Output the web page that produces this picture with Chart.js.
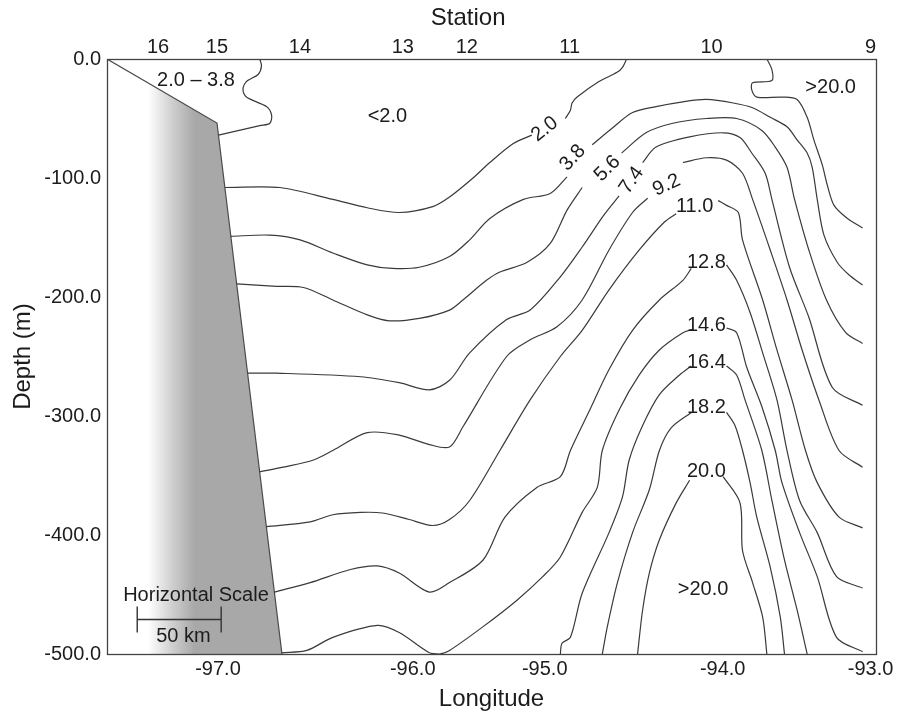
<!DOCTYPE html>
<html>
<head>
<meta charset="utf-8">
<script src="https://cdn.jsdelivr.net/npm/chart.js@4.4.1/dist/chart.umd.min.js"></script>
<style>
html,body{margin:0;padding:0;background:#fff;}
#wrap{width:899px;height:717px;}
</style>
</head>
<body>
<div id="wrap"><canvas id="c" width="899" height="717"></canvas></div>
<script>
// ---- axes (distance along section, km; depth, m) ----
const xMin = 0, xMax = 458;
const lonTickPos = [66.1, 182.1, 260.7, 366.7, 454.8];
const lonTickLabels = ['-97.0', '-96.0', '-95.0', '-94.0', '-93.0'];
const stationPos = [30.4, 65.5, 114.9, 176.2, 214.3, 275.6, 360.1, 454.8];
const stationLabels = ['16', '15', '14', '13', '12', '11', '10', '9'];
const depthMin = -500, depthMax = 0, depthStep = 100;

// ---- continental slope (shelf) ----
const shelfX = [0, 65.5, 104.2];
const shelfY = [0, -53.8, -500];
const shadeStart = 24.4, shadeEnd = 52.4;

// ---- horizontal scale bar (50 km) ----
const scaleBarX = [18, 18, 18, 18, 68, 68, 68, 68];
const scaleBarY = [-460, -482, null, -471, -471, null, -460, -482];

// ---- contour lines [km, depth]; null = break at label ----
const c20a = [[91,0],[92,-6],[90,-13],[83,-19],[81,-26],[83,-32],[95,-40],[98,-47],[97,-54],[91,-56],[66.4,-64]];
const c20b = [[70.2,-108],[103,-108],[134.5,-118],[155,-125],[174,-129],[194,-124],[204,-116],[218,-100],[228,-87],[242,-71],[253,-64],[261,null],[273,-50],[276,-43],[277,-37],[280,-32],[293,-19],[304,-11],[307,-7],[309.5,0]];
const c20c = [[393,0],[396,-9],[396,-18],[384.5,-20],[384,-26],[387,-32],[402,-32],[411,-34],[417,-49],[421,-68],[426,-89],[429,-106],[433,-123],[441,-134],[450,-142]];
const c38 = [[73.7,-149],[97,-148],[115,-152],[134.5,-163],[155,-173],[170,-176],[186,-175],[204,-166],[216,-152],[228,-134],[248,-118],[264,-113],[274,-99],[277,null],[289,-72],[301,-58],[313,-45],[327,-40],[343,-36],[357,-34],[373,-37],[384.5,-41],[395,-49],[405,-57],[411,-68],[417,-79],[420,-91],[423,-118],[427,-148],[435,-171],[442,-181.5],[450,-190]];
const c56 = [[77.2,-189],[101,-191],[117,-192],[134.5,-202.5],[155,-215],[168,-220],[186,-218],[204,-211],[212,-202.5],[226,-186],[234,-179],[250,-171],[264,-155],[274,-127],[283,-108],[297,null],[306.5,-79],[321,-62],[337,-54],[357,-50],[375,-50],[390,-60],[398,-74],[405,-91],[409.5,-118],[418,-160.5],[428.5,-202.5],[440,-230],[450,-239]];
const c74 = [[83.7,-264],[101,-264],[151,-267],[174,-272],[192,-278],[204,-270],[216,-247],[238,-219],[252,-211],[270,-183],[283,-158],[296,-131],[305,-115],[312.5,null],[319,-87],[327,-74],[347,-65.5],[367,-62],[377,-66],[384,-79],[392,-96],[396,-118],[406.5,-175],[418,-217],[432,-276],[450,-291]];
const c92 = [[90.9,-347],[105,-343],[123,-337],[134.5,-329],[155,-314],[174,-316],[192,-324],[204,-326],[212,-309],[238,-250],[252,-236],[268,-225],[283,-202.5],[299,-160.5],[313,-129],[322,-117],[333,null],[343,-87],[357,-83],[369,-85],[378.5,-96],[384.5,-118],[395,-160.5],[405,-202.5],[414,-244.5],[424,-286.5],[436,-329],[450,-343]];
const c110 = [[94.9,-393],[121,-389],[134.5,-383],[151,-381],[164,-381.5],[180,-387],[194,-392],[204,-387],[216,-371],[234,-329],[252,-286.5],[270,-250],[283,-228],[299,-194],[317,-160.5],[332,-137],[339,-130],[350,null],[364,-119],[369,-123],[376,-129],[378.5,-152],[390.5,-202.5],[399,-244.5],[408,-286.5],[416,-329],[423,-356],[436,-385],[450,-394]];
const c128 = [[99.7,-448],[121,-440],[145,-429],[161,-426],[174,-432],[192,-448],[204,-440],[224,-421],[237,-385],[256,-360],[270,-351],[276,-329],[287.5,-295],[299,-261],[313,-228],[329,-202.5],[343,-186],[348,-176],[357,null],[369,-173],[375,-186],[383,-213],[390.5,-247],[399,-286.5],[405,-329],[412.5,-371],[423,-398],[434.5,-435],[450,-444.5]];
const c146 = [[104,-499],[119,-497],[134.5,-486],[161,-476],[174,-482],[192,-499],[198,-500],[204,-497],[224,-477],[244,-455],[259.5,-435],[270,-418.5],[283,-381],[292,-360],[295,-329],[305,-295],[317,-265.5],[329,-244.5],[343,-230],[349,-227],[357,null],[369,-226],[375,-230],[381,-259],[390,-292],[398,-329],[402,-356],[412.5,-398],[423,-435],[434.5,-486],[450,-498]];
const c164 = [[270,-500],[271,-491],[276,-486],[283,-449],[299,-398],[307,-368],[311,-337],[319,-308],[329,-282],[341,-265.5],[348,-258],[357,null],[369,-258],[375,-265.5],[380,-286.5],[390,-329],[396,-371],[403.5,-421],[411,-463],[417,-500]];
const c182 = [[295,-500],[298,-477],[304,-440],[313,-398],[323,-362],[329,-329],[336,-310],[348,-297],[357,null],[369,-297],[374,-308],[378.5,-329],[383,-356],[387,-385],[395,-427],[401,-469],[403.5,-500]];
const c200 = [[316,-500],[319,-463],[323,-432],[329,-404],[339,-373],[347,-354],[357,null],[367,-351],[377,-373],[378.5,-413],[384.5,-440],[390.5,-469],[393,-500]];
const contours = [c20a, c20b, c20c, c38, c56, c74, c92, c110, c128, c146, c164, c182, c200];

// ---- text labels inside the plot ----
const labelTexts = ['2.0','3.8','5.6','7.4','9.2','11.0','12.8','14.6','16.4','18.2','20.0','2.0 \u2013 3.8','<2.0','>20.0','>20.0','Horizontal Scale','50 km'];
const labelX = [260.7, 277.4, 298, 312.5, 333.3, 350, 357, 357, 357, 357, 357, 53, 167, 431, 355, 53, 45.5];
const labelY = [-59, -83, -92, -102, -106, -124, -171, -224, -255, -293, -347, -18, -48, -24, -446, -451, -485];
const labelAngle = [-38, -48, -45, -55, -25, 0, 0, 0, 0, 0, 0, 0, 0, 0, 0, 0, 0];

const FONT = '"Liberation Sans", Arial, Helvetica, sans-serif';
const INK = '#1c1c1c';
const LINE = '#3a3a3a';

Chart.defaults.font.family = FONT;
Chart.defaults.color = INK;

const toPts = arr => arr.map(p => ({x: p[0], y: p[1]}));

const datasets = contours.map(c => ({
  data: toPts(c),
  borderColor: LINE,
  borderWidth: 1.2,
  pointRadius: 0,
  tension: 0.3,
  fill: false,
  spanGaps: false
}));

datasets.push({
  data: scaleBarX.map((x, i) => ({x, y: scaleBarY[i]})),
  borderColor: '#333',
  borderWidth: 1.4,
  pointRadius: 0,
  tension: 0,
  fill: false,
  spanGaps: false
});

datasets.push({
  data: shelfX.map((x, i) => ({x, y: shelfY[i]})),
  borderColor: '#4a4a4a',
  borderWidth: 1.2,
  pointRadius: 0,
  tension: 0,
  fill: 'start',
  backgroundColor: (ctx) => {
    const ch = ctx.chart;
    const xs = ch.scales && ch.scales.x;
    if (!ch.chartArea || !xs) return '#a8a8a8';
    const g = ch.ctx.createLinearGradient(xs.getPixelForValue(shadeStart), 0, xs.getPixelForValue(shadeEnd), 0);
    g.addColorStop(0, '#ffffff');
    g.addColorStop(0.5, '#d0d0d0');
    g.addColorStop(1, '#a8a8a8');
    return g;
  }
});

const textPlugin = {
  id: 'texts',
  afterDatasetsDraw(chart) {
    const {ctx, chartArea: a, scales: {x, y}} = chart;
    ctx.save();
    ctx.strokeStyle = '#444';
    ctx.lineWidth = 1.3;
    ctx.strokeRect(a.left + 0.5, a.top + 0.5, a.right - a.left, a.bottom - a.top);
    ctx.fillStyle = INK;
    ctx.font = '20px ' + FONT;
    ctx.textAlign = 'center';
    ctx.textBaseline = 'middle';
    labelTexts.forEach((t, i) => {
      ctx.save();
      ctx.translate(x.getPixelForValue(labelX[i]), y.getPixelForValue(labelY[i]));
      ctx.rotate(labelAngle[i] * Math.PI / 180);
      ctx.fillText(t, 0, 0);
      ctx.restore();
    });
    ctx.restore();
  }
};

new Chart(document.getElementById('c'), {
  type: 'line',
  data: {datasets},
  plugins: [textPlugin],
  options: {
    responsive: false,
    animation: false,
    layout: {padding: {left: 0, right: 23, top: 0, bottom: 0}},
    plugins: {legend: {display: false}, tooltip: {enabled: false}},
    scales: {
      x: {
        type: 'linear', position: 'bottom', min: xMin, max: xMax,
        grid: {display: false, drawTicks: false},
        border: {display: false},
        afterBuildTicks: s => { s.ticks = lonTickPos.map(v => ({value: v})); },
        afterFit: s => { s.height = 63; },
        ticks: {autoSkip: false, maxRotation: 0, padding: 3, font: {size: 20}, color: INK,
                callback: (v, i) => lonTickLabels[i]},
        title: {display: true, text: 'Longitude', font: {size: 24}, color: INK, padding: {top: 0, bottom: 3}}
      },
      xTop: {
        type: 'linear', position: 'top', min: xMin, max: xMax,
        grid: {display: false, drawTicks: false},
        border: {display: false},
        afterBuildTicks: s => { s.ticks = stationPos.map(v => ({value: v})); },
        afterFit: s => { s.height = 59; },
        ticks: {autoSkip: false, maxRotation: 0, padding: 0, font: {size: 20}, color: INK,
                callback: (v, i) => stationLabels[i]},
        title: {display: true, text: 'Station       ', font: {size: 24}, color: INK, padding: {top: 4, bottom: 0}}
      },
      y: {
        type: 'linear', position: 'left', min: depthMin, max: depthMax,
        grid: {display: false, drawTicks: false},
        border: {display: false},
        afterFit: s => { s.width = 107; },
        ticks: {stepSize: depthStep, padding: 6, font: {size: 20}, color: INK,
                callback: v => Number(v).toFixed(1)},
        title: {display: true, text: 'Depth (m)', font: {size: 24}, color: INK, padding: {top: 9, bottom: 0}}
      }
    }
  }
});
</script>
</body>
</html>
